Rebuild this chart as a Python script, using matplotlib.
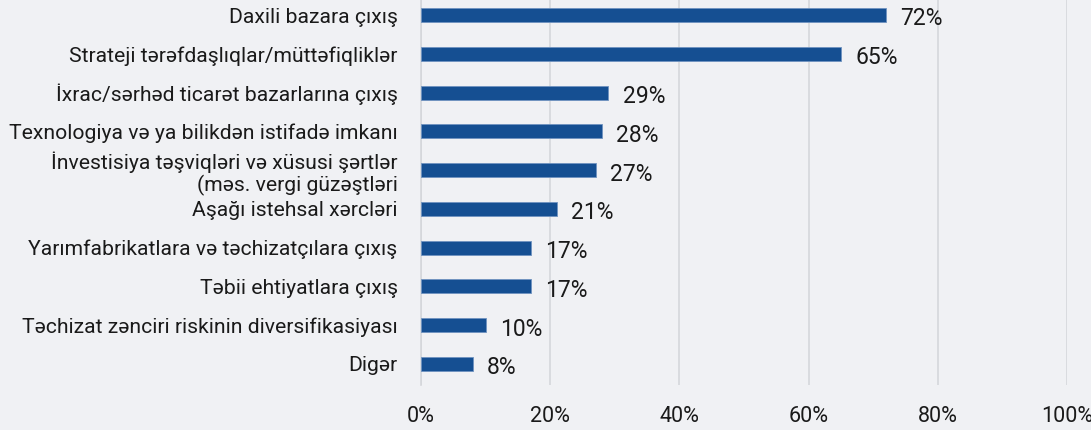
import matplotlib
matplotlib.use("Agg")
import matplotlib.pyplot as plt

categories = [
    "Daxili bazara çıxış",
    "Strateji tərəfdaşlıqlar/müttəfiqliklər",
    "İxrac/sərhəd ticarət bazarlarına çıxış",
    "Texnologiya və ya bilikdən istifadə imkanı",
    "İnvestisiya təşviqləri və xüsusi şərtlər\n(məs. vergi güzəştləri",
    "Aşağı istehsal xərcləri",
    "Yarımfabrikatlara və təchizatçılara çıxış",
    "Təbii ehtiyatlara çıxış",
    "Təchizat zənciri riskinin diversifikasiyası",
    "Digər",
]
values = [72, 65, 29, 28, 27, 21, 17, 17, 10, 8]
xticks = [0, 20, 40, 60, 80, 100]

plt.rcParams["font.family"] = ["Roboto", "DejaVu Sans"]
bg = "#f0f1f4"
bar_color = "#154f92"
grid_color = "#d5d7db"
text_color = "#1a1a1a"

fig = plt.figure(figsize=(10.91, 4.30), dpi=100, facecolor=bg)
ax = fig.add_axes([0.386, 0.105, 0.592, 0.895], facecolor=bg)

y = list(range(len(categories)))
ax.barh(y, values, height=0.36, color=bar_color, edgecolor="#6f93c0", linewidth=0.6, zorder=3)

for yi, v in zip(y, values):
    ax.text(v + 2.2, yi + 0.1, f"{v}%", ha="left", va="center",
            fontsize=16.5, color=text_color)

ax.set_xlim(0, 100)
ax.set_ylim(9.54, -0.39)
ax.set_xticks(xticks)
ax.set_xticklabels([f"{t}%" for t in xticks])
ax.set_yticks(y)
ax.set_yticklabels(categories, linespacing=1.15)
ax.tick_params(axis="x", length=0, pad=15, labelsize=15.5, colors=text_color)
ax.tick_params(axis="y", length=0, pad=17, labelsize=15.2, colors=text_color)
ax.xaxis.grid(True, color=grid_color, linewidth=1.2, zorder=0)
for s in ["top", "right", "bottom"]:
    ax.spines[s].set_visible(False)
ax.spines["left"].set_color(grid_color)
ax.spines["left"].set_linewidth(1.2)

fig.savefig("out.png", dpi=100, facecolor=bg)
